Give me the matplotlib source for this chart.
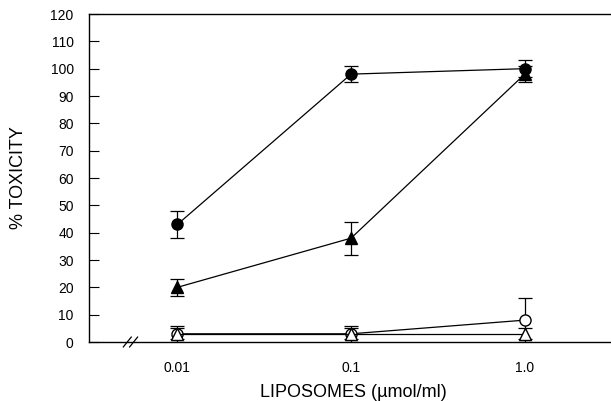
import matplotlib.pyplot as plt

plt.rcParams['font.family'] = ['Liberation Sans', 'DejaVu Sans']

conc = [0.01, 0.1, 1.0]
conc_labels = ['0.01', '0.1', '1.0']

filled_circle = [43, 98, 100]
filled_circle_err = [5, 3, 3]
filled_tri = [20, 38, 98]
filled_tri_err = [3, 6, 3]
open_circle = [3, 3, 8]
open_circle_err = [3, 3, 8]
open_tri = [3, 3, 3]
open_tri_err = [2, 2, 2]

fig = plt.figure(figsize=(6.11, 4.01), dpi=100)
ax = fig.add_axes([89 / 611, 59 / 401, 1 - 89 / 611 + 0.01, 328 / 401])

kw = dict(color='black', lw=0.9, ms=8, capsize=5, elinewidth=0.9, capthick=0.9)
ax.errorbar(conc, open_circle, yerr=open_circle_err, fmt='-o', mfc='white', mec='black', **kw)
ax.errorbar(conc, open_tri, yerr=open_tri_err, fmt='-^', mfc='white', mec='black', **kw)
ax.errorbar(conc, filled_tri, yerr=filled_tri_err, fmt='-^', mfc='black', mec='black', **kw)
ax.errorbar(conc, filled_circle, yerr=filled_circle_err, fmt='-o', mfc='black', mec='black', **kw)

ax.set_xscale('log')
ax.set_xlim(0.0031, 3.4)
ax.set_ylim(0, 120)
ax.set_yticks(range(0, 121, 10))
ax.set_xticks(conc)
ax.set_xticklabels(conc_labels)
ax.minorticks_off()
ax.tick_params(axis='x', length=0, pad=14, labelsize=10)
ax.tick_params(axis='y', direction='in', length=7, width=0.8, pad=11, labelsize=10)
ax.spines['right'].set_visible(False)
for s in ['left', 'bottom', 'top']:
    ax.spines[s].set_linewidth(1.0)

# axis break mark
for dx in (0.0, 0.012):
    ax.plot([0.065 + dx, 0.08 + dx], [-0.015, 0.015], color='black', lw=0.9,
            transform=ax.transAxes, clip_on=False)

ax.set_ylabel('% TOXICITY', fontsize=13, labelpad=17)
ax.set_xlabel('LIPOSOMES (\u00b5mol/ml)', fontsize=13, labelpad=6)

fig.savefig('out.png', dpi=100)
